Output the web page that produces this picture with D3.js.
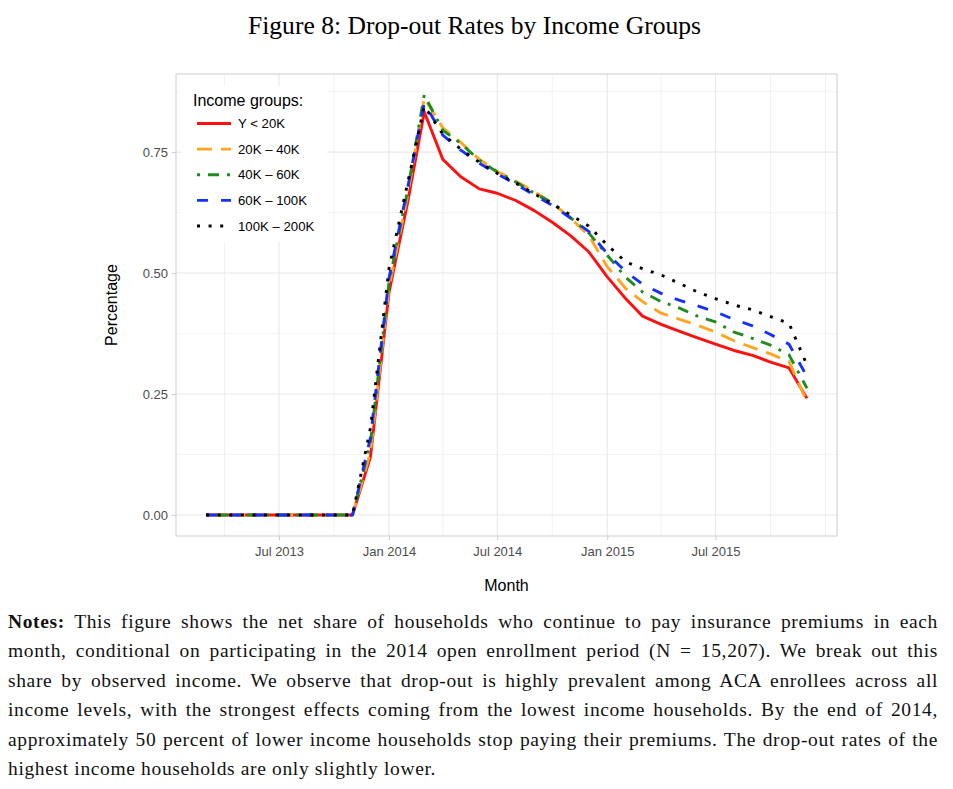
<!DOCTYPE html>
<html><head><meta charset="utf-8">
<script src="https://cdn.jsdelivr.net/npm/d3@7"></script>
<style>body{margin:0;background:#fff}</style>
</head><body>
<svg id="c" width="953" height="789"></svg>
<script>
// ---------- data ----------
const months = ["2013-03","2013-04","2013-05","2013-06","2013-07","2013-08","2013-09","2013-10","2013-11","2013-12",
  "2014-01","2014-02","2014-03","2014-04","2014-05","2014-06","2014-07","2014-08","2014-09","2014-10","2014-11","2014-12",
  "2015-01","2015-02","2015-03","2015-04","2015-05","2015-06","2015-07","2015-08","2015-09","2015-10","2015-11","2015-12"];
const groups = ["Y < 20K","20K – 40K","40K – 60K","60K – 100K","100K – 200K"];
const incUnder20 = [0,0,0,0,0,0,0,0,0, 0.12,0.46,0.645,0.833, 0.735,0.699,0.674,0.665,0.650,0.629,0.605,0.577,0.544,
  0.492,0.447,0.411,0.394,0.380,0.366,0.353,0.340,0.330,0.316,0.304,0.241];
const inc20to40 = [0,0,0,0,0,0,0,0,0, 0.13,0.47,0.66,0.862, 0.800,0.770,0.735,0.710,0.690,0.668,0.645,0.613,0.578,
  0.513,0.468,0.441,0.417,0.405,0.392,0.378,0.360,0.346,0.333,0.317,0.234];
const inc40to60 = [0,0,0,0,0,0,0,0,0, 0.15,0.48,0.67,0.868, 0.795,0.768,0.733,0.709,0.688,0.665,0.645,0.614,0.583,
  0.537,0.491,0.461,0.441,0.428,0.411,0.399,0.378,0.365,0.351,0.331,0.262];
const inc60to100 = [0,0,0,0,0,0,0,0,0, 0.16,0.49,0.675,0.851, 0.785,0.754,0.727,0.705,0.684,0.661,0.640,0.613,0.586,
  0.540,0.503,0.477,0.458,0.444,0.432,0.420,0.404,0.391,0.373,0.353,0.286];
const inc100to200 = [0,0,0,0,0,0,0,0,0, 0.18,0.51,0.685,0.845, 0.787,0.756,0.729,0.706,0.686,0.664,0.643,0.620,0.597,
  0.558,0.523,0.509,0.496,0.479,0.461,0.447,0.434,0.424,0.410,0.396,0.31];
const seriesValues = [incUnder20, inc20to40, inc40to60, inc60to100, inc100to200];
const xTickDates = ["2013-07","2014-01","2014-07","2015-01","2015-07"];
const xMinorDates = ["2013-04","2013-10","2014-04","2014-10","2015-04","2015-10","2016-01"];
const yTicks = [0, 0.25, 0.5, 0.75];
const yMinor = [0.125, 0.375, 0.625, 0.875];
const titleText = "Figure 8: Drop-out Rates by Income Groups";
const noteLines = [
  ["Notes:", " This figure shows the net share of households who continue to pay insurance premiums in each"],
  ["", "month, conditional on participating in the 2014 open enrollment period (N = 15,207). We break out this"],
  ["", "share by observed income. We observe that drop-out is highly prevalent among ACA enrollees across all"],
  ["", "income levels, with the strongest effects coming from the lowest income households. By the end of 2014,"],
  ["", "approximately 50 percent of lower income households stop paying their premiums. The drop-out rates of the"],
  ["", "highest income households are only slightly lower."]
];

// ---------- styles ----------
const colors = ["#FF1010", "#FFA51F", "#1E8C1E", "#1530FF", "#000000"];
const dashes = [null, "15 9", "3 8 11 8", "11 13", "3 8.6"];
const parse = d3.timeParse("%Y-%m");
const svg = d3.select("#c");
const sans = "'Liberation Sans', Arial, Helvetica, sans-serif";
const serif = "'Liberation Serif', 'Times New Roman', serif";

const P = {l: 176, r: 837, t: 74, b: 536};
const dates = months.map(parse);
const ext = d3.extent(dates);
const span = ext[1] - ext[0];
const x = d3.scaleTime()
  .domain([new Date(+ext[0] - 0.05*span), new Date(+ext[1] + 0.05*span)])
  .range([P.l, P.r]);
const ymax = d3.max(seriesValues.flat());
const y = d3.scaleLinear().domain([-0.05*ymax, 1.05*ymax]).range([P.b, P.t]);

// panel background
svg.append("rect").attr("x", P.l).attr("y", P.t).attr("width", P.r-P.l).attr("height", P.b-P.t).attr("fill", "#fff");

// grid
const g = svg.append("g");
g.selectAll(".ymin").data(yMinor).join("line")
  .attr("x1", P.l).attr("x2", P.r).attr("y1", d=>y(d)).attr("y2", d=>y(d))
  .attr("stroke", "#F0F0F0").attr("stroke-width", 0.8);
g.selectAll(".xmin").data(xMinorDates.map(parse)).join("line")
  .attr("y1", P.t).attr("y2", P.b).attr("x1", d=>x(d)).attr("x2", d=>x(d))
  .attr("stroke", "#EDEDED").attr("stroke-width", 0.8);
g.selectAll(".ymaj").data(yTicks).join("line")
  .attr("x1", P.l).attr("x2", P.r).attr("y1", d=>y(d)).attr("y2", d=>y(d))
  .attr("stroke", "#E8E8E8").attr("stroke-width", 1.1);
g.selectAll(".xmaj").data(xTickDates.map(parse)).join("line")
  .attr("y1", P.t).attr("y2", P.b).attr("x1", d=>x(d)).attr("x2", d=>x(d))
  .attr("stroke", "#E8E8E8").attr("stroke-width", 1.1);

// axes
const xAxis = d3.axisBottom(x).tickValues(xTickDates.map(parse)).tickFormat(d3.timeFormat("%b %Y")).tickSize(4).tickPadding(4);
const yAxis = d3.axisLeft(y).tickValues(yTicks).tickFormat(d3.format(".2f")).tickSize(4).tickPadding(4);
const gx = svg.append("g").attr("transform", `translate(0,${P.b})`).call(xAxis);
const gy = svg.append("g").attr("transform", `translate(${P.l},0)`).call(yAxis);
[gx, gy].forEach(a => {
  a.select(".domain").remove();
  a.selectAll(".tick line").attr("stroke", "#BDBDBD").attr("stroke-width", 0.8);
  a.selectAll(".tick text").attr("fill", "#4D4D4D").style("font-family", sans).style("font-size", "13px");
});
gx.selectAll(".tick text").attr("dy", "0.9em");

// lines
const line = d3.line().x((d,i)=>x(dates[i])).y(d=>y(d));
seriesValues.forEach((vals, k) => {
  svg.append("path").datum(vals).attr("d", line)
    .attr("fill", "none").attr("stroke", colors[k]).attr("stroke-width", 2.9)
    .attr("stroke-dasharray", dashes[k]).attr("stroke-linejoin", "round");
});

// panel border
svg.append("rect").attr("x", P.l).attr("y", P.t).attr("width", P.r-P.l).attr("height", P.b-P.t)
  .attr("fill", "none").attr("stroke", "#D2D2D2").attr("stroke-width", 1.1);

// legend
const lg = svg.append("g");
lg.append("rect").attr("x", 181).attr("y", 86).attr("width", 146).attr("height", 156).attr("fill", "#fff");
lg.append("text").attr("x", 193).attr("y", 106).text("Income groups:")
  .style("font-family", sans).style("font-size", "16px").attr("fill", "#000");
const rowY = d3.scaleLinear().domain([0, groups.length-1]).range([123.5, 226]);
groups.forEach((name, k) => {
  lg.append("line").attr("x1", 197).attr("x2", 231).attr("y1", rowY(k)).attr("y2", rowY(k))
    .attr("stroke", colors[k]).attr("stroke-width", 2.9).attr("stroke-dasharray", dashes[k]);
  lg.append("text").attr("x", 238).attr("y", rowY(k) + 4.6).text(name)
    .style("font-family", sans).style("font-size", "13.2px").attr("fill", "#000");
});

// axis titles
svg.append("text").attr("x", (P.l+P.r)/2).attr("y", 591).attr("text-anchor", "middle").text("Month")
  .style("font-family", sans).style("font-size", "16px");
svg.append("text").attr("transform", `translate(117,${(P.t+P.b)/2}) rotate(-90)`).attr("text-anchor", "middle").text("Percentage")
  .style("font-family", sans).style("font-size", "16px");

// title (serif), fitted to reference width
const tt = svg.append("text").attr("x", 474.5).attr("y", 34).attr("text-anchor", "middle").text(titleText)
  .style("font-family", serif).style("font-size", "22px");
const tw = tt.node().getComputedTextLength();
tt.style("font-size", (22 * 453 / tw).toFixed(2) + "px");

// notes (justified)
const left = 8, right = 938, base0 = 628, lh = 29.4, lastW = 428;
let fs = 19.5;
const mk = (i, size) => {
  const [b, r] = noteLines[i];
  const t = svg.append("text").attr("x", left).attr("y", base0 + i*lh)
    .style("font-family", serif).style("font-size", size + "px").attr("fill", "#111");
  if (b) t.append("tspan").style("font-weight", "bold").text(b);
  t.append("tspan").text(r);
  return t;
};
let maxW = 0;
noteLines.forEach((_, i) => { const t = mk(i, fs); maxW = Math.max(maxW, t.node().getComputedTextLength()); t.remove(); });
if (maxW > (right-left)) fs = fs * (right-left) / maxW * 0.995;
// common letter-spacing derived from the (unjustified) last line
const lastT = mk(noteLines.length-1, fs);
const lastLen = (noteLines[noteLines.length-1].join("")).length;
let ls = Math.max(0, (lastW - lastT.node().getComputedTextLength()) / lastLen);
lastT.remove();
noteLines.forEach((ln, i) => {
  const t = mk(i, fs);
  const s = ln.join("");
  const n = s.length, spaces = (s.match(/ /g) || []).length;
  const w0 = t.node().getComputedTextLength();
  if (i < noteLines.length - 1) {
    // letter spacing, but keep word spacing >= 0
    let lsi = Math.min(ls, Math.max(0, (right-left-w0)/n));
    const ws = (right-left-w0-lsi*n)/spaces;
    t.style("letter-spacing", lsi.toFixed(3) + "px").style("word-spacing", ws.toFixed(3) + "px");
  } else {
    t.style("letter-spacing", ls.toFixed(3) + "px");
  }
});
</script>
</body></html>
